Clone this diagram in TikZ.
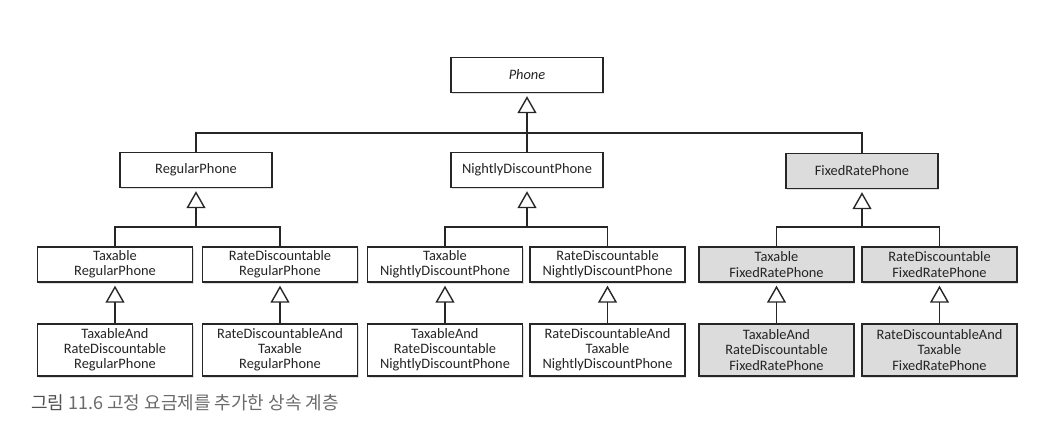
\documentclass[tikz,border=0pt]{standalone}
\usepackage{fontspec}
\setmainfont{Carlito}
\newfontfamily\krfont{Noto Sans CJK KR}
\usetikzlibrary{arrows.meta,shadows}
\definecolor{boxline}{HTML}{262626}
\definecolor{boxgray}{HTML}{DCDCDC}
\definecolor{textc}{HTML}{242424}
\definecolor{capgray}{HTML}{6A6A6A}
\definecolor{capdark}{HTML}{505050}
\begin{document}
\begin{tikzpicture}[x=1pt,y=-1pt,
  cls/.style={draw=boxline, line width=1.4pt, fill=white, align=center,
    inner sep=0pt, font=\fontsize{14.4}{15.2}\selectfont, text=textc,
    minimum height=35pt,
    drop shadow={shadow xshift=1.4pt, shadow yshift=-2pt, opacity=0.25}},
  w1/.style={minimum width=152pt},
  w2/.style={minimum width=155pt},
  tall/.style={minimum height=52pt},
  grayfill/.style={fill=boxgray},
  inh/.style={draw=boxline, line width=1.4pt},
  tip/.style={inh, -{Triangle[open, length=17pt, width=19pt, line width=1.4pt]}, shorten >=3pt}]
\useasboundingbox (0,0) rectangle (1046,427);

% level 0
\node[cls,w1,font=\fontsize{14.4}{15.2}\selectfont\itshape] (phone) at (527,75) {Phone};
% level 1
\node[cls,w1] (reg) at (196,170) {RegularPhone};
\node[cls,w1] (nig) at (527,170) {NightlyDiscountPhone};
\node[cls,w1,grayfill] (fix) at (862,171) {FixedRatePhone};
% level 2
\node[cls,w2] (tr) at (115,264.5) {Taxable\\RegularPhone};
\node[cls,w2] (rr) at (280,264.5) {RateDiscountable\\RegularPhone};
\node[cls,w2] (tn) at (445,264.5) {Taxable\\NightlyDiscountPhone};
\node[cls,w2] (rn) at (607.5,264.5) {RateDiscountable\\NightlyDiscountPhone};
\node[cls,w2,grayfill] (tf) at (776.5,264.5) {Taxable\\FixedRatePhone};
\node[cls,w2,grayfill] (rf) at (939.5,264.5) {RateDiscountable\\FixedRatePhone};
% level 3
\node[cls,w2,tall] (ttr) at (115,350) {TaxableAnd\\RateDiscountable\\RegularPhone};
\node[cls,w2,tall] (rrr) at (280,350) {RateDiscountableAnd\\Taxable\\RegularPhone};
\node[cls,w2,tall] (ttn) at (445,350) {TaxableAnd\\RateDiscountable\\NightlyDiscountPhone};
\node[cls,w2,tall] (rrn) at (607.5,350) {RateDiscountableAnd\\Taxable\\NightlyDiscountPhone};
\node[cls,w2,tall,grayfill] (ttf) at (776.5,350) {TaxableAnd\\RateDiscountable\\FixedRatePhone};
\node[cls,w2,tall,grayfill] (rrf) at (939.5,350) {RateDiscountableAnd\\Taxable\\FixedRatePhone};

% junctions
\coordinate (j0) at (527,133);
\coordinate (jr) at (196,227);
\coordinate (jn) at (527,227);
\coordinate (jf) at (862,227);

% connectors
\draw[inh] (reg.north) |- (j0) -| (fix.north);
\draw[inh] (nig.north) -- (j0);
\draw[tip] (j0) -- (phone.south);

\draw[inh] (tr.north) |- (jr) -| (rr.north);
\draw[tip] (jr) -- (reg.south);
\draw[inh] (tn.north) |- (jn) -| (rn.north);
\draw[tip] (jn) -- (nig.south);
\draw[inh] (tf.north) |- (jf) -| (rf.north);
\draw[tip] (jf) -- (fix.south);

\draw[tip] (ttr.north) -- (tr.south);
\draw[tip] (rrr.north) -- (rr.south);
\draw[tip] (ttn.north) -- (tn.south);
\draw[tip] (rrn.north) -- (rn.south);
\draw[tip] (ttf.north) -- (tf.south);
\draw[tip] (rrf.north) -- (rf.south);

% caption
\node[anchor=west, inner sep=0pt, text=capgray, font=\krfont\fontsize{18}{20}\selectfont] (cap) at (31,403)
  {{\color{capdark}그림} 11.6 고정 요금제를 추가한 상속 계층};
\end{tikzpicture}
\end{document}
